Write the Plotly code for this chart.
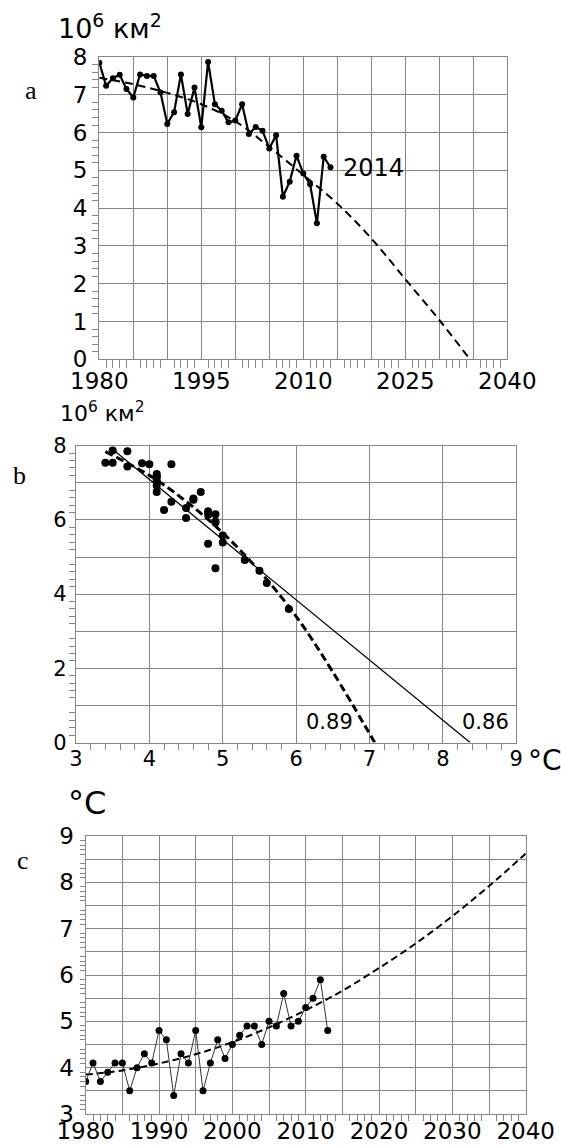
import plotly.graph_objects as go

# ---------------- data ----------------
years = list(range(1980, 2015))
ice_extent = [7.85, 7.24, 7.44, 7.53, 7.15, 6.93, 7.54, 7.50, 7.50, 7.06,
              6.23, 6.54, 7.54, 6.49, 7.19, 6.14, 7.87, 6.75, 6.58, 6.27,
              6.32, 6.75, 5.96, 6.15, 6.05, 5.58, 5.93, 4.30, 4.70, 5.39,
              4.92, 4.63, 3.60, 5.36, 5.08]
trend_a_years = [1980, 1985, 1990, 1995, 2000, 2005, 2010, 2015, 2020, 2025, 2030, 2034.5]
trend_a_values = [7.45, 7.28, 7.05, 6.75, 6.30, 5.62, 4.88, 4.12, 3.20, 2.12, 1.04, 0.0]

temp_years = list(range(1980, 2014))
temperature = [3.7, 4.1, 3.7, 3.9, 4.1, 4.1, 3.5, 4.0, 4.3, 4.1,
               4.8, 4.6, 3.4, 4.3, 4.1, 4.8, 3.5, 4.1, 4.6, 4.2,
               4.5, 4.7, 4.9, 4.9, 4.5, 5.0, 4.9, 5.6, 4.9, 5.0,
               5.3, 5.5, 5.9, 4.8]
trend_c_years = list(range(1980, 2045, 5))
trend_c_values = [3.85, 3.94, 4.09, 4.29, 4.55, 4.87, 5.24, 5.66, 6.15, 6.68, 7.27, 7.92, 8.62]

linear_b_temp = [3.47, 8.37]
linear_b_ext = [7.95, 0.0]
curve_b_temp = [3.40, 4.0, 4.5, 5.0, 5.5, 6.0, 6.5, 7.07]
curve_b_ext = [7.84, 7.2, 6.5, 5.65, 4.62, 3.4, 1.9, 0.0]

# tick / grid positions
year_grid = list(range(1980, 2041, 5))
a_year_labels = [1980, 1995, 2010, 2025, 2040]
c_year_labels = [1980, 1990, 2000, 2010, 2020, 2030, 2040]
year_small = [y for y in range(1980, 2041) if y % 5]
ext_grid = [0, 1, 2, 3, 4, 5, 6, 7, 8]
ext_small = [round(i / 5, 2) for i in range(41) if i % 5]
b_ext_labels = [0, 2, 4, 6, 8]
temp_b_grid = [3, 4, 5, 6, 7, 8, 9]
temp_b_small = [round(3 + i / 5, 2) for i in range(31) if i % 5]
temp_c_grid = [round(3 + i / 2, 1) for i in range(13)]
temp_c_labels = [3, 4, 5, 6, 7, 8, 9]
temp_c_small = [round(3 + i / 10, 2) for i in range(61) if i % 5]

# ---------------- figure ----------------
W, H = 561, 1148
GRID = "#868686"
SANS = "DejaVu Sans, Arial, sans-serif"
SERIF = "Liberation Serif, Times New Roman, serif"


def px_x(p):
    return p / W


def px_y(p):
    return 1 - p / H


fig = go.Figure()

# panel a
fig.add_trace(go.Scatter(x=trend_a_years, y=trend_a_values, mode="lines",
                         line=dict(color="black", width=2, dash="8px,5px", shape="spline"),
                         xaxis="x", yaxis="y", showlegend=False, hoverinfo="skip"))
fig.add_trace(go.Scatter(x=years, y=ice_extent, mode="lines+markers",
                         line=dict(color="black", width=2.2),
                         marker=dict(color="black", size=6),
                         xaxis="x", yaxis="y", showlegend=False))

# panel b
fig.add_trace(go.Scatter(x=linear_b_temp, y=linear_b_ext, mode="lines",
                         line=dict(color="black", width=1.3),
                         xaxis="x2", yaxis="y2", showlegend=False, hoverinfo="skip"))
fig.add_trace(go.Scatter(x=curve_b_temp, y=curve_b_ext, mode="lines",
                         line=dict(color="black", width=3, dash="8px,4px", shape="spline"),
                         xaxis="x2", yaxis="y2", showlegend=False, hoverinfo="skip"))
fig.add_trace(go.Scatter(x=temperature, y=ice_extent[:len(temperature)], mode="markers",
                         marker=dict(color="black", size=8),
                         xaxis="x2", yaxis="y2", showlegend=False))

# panel c
fig.add_trace(go.Scatter(x=trend_c_years, y=trend_c_values, mode="lines",
                         line=dict(color="black", width=2, dash="7px,4px", shape="spline"),
                         xaxis="x3", yaxis="y3", showlegend=False, hoverinfo="skip"))
fig.add_trace(go.Scatter(x=temp_years, y=temperature, mode="lines+markers",
                         line=dict(color="#333333", width=1),
                         marker=dict(color="black", size=7),
                         xaxis="x3", yaxis="y3", showlegend=False))

# invisible anchors for the overlay (small-tick) axes
for xa, ya, xs, ys in (("x4", "y4", years, ice_extent),
                       ("x5", "y5", temperature, ice_extent),
                       ("x6", "y6", temp_years, temperature)):
    fig.add_trace(go.Scatter(x=xs[:1], y=ys[:1], mode="markers",
                             marker=dict(opacity=0, size=1), xaxis=xa, yaxis=ya,
                             showlegend=False, hoverinfo="skip"))


def main_axis(domain, rng, grid, labels, fsize, anchor, standoff):
    rest = [g for g in grid if g not in labels]
    return dict(domain=domain, range=rng, tickmode="array", tickvals=labels,
                ticktext=[str(v) for v in labels],
                showgrid=True, gridcolor=GRID, gridwidth=1.2,
                showline=True, mirror=True, linecolor=GRID, linewidth=1.4,
                zeroline=False, ticks="", ticklen=0, anchor=anchor, automargin=False,
                ticklabelstandoff=standoff,
                tickfont=dict(family=SANS, size=fsize, color="black"),
                minor=dict(tickmode="array", tickvals=rest, ticks="", showgrid=True,
                           gridcolor=GRID, gridwidth=1.2),
                fixedrange=True)


def small_axis(base, anchor, rng, vals, length):
    return dict(overlaying=base, anchor=anchor, range=rng, tickmode="array",
                tickvals=vals, ticks="outside", ticklen=length, tickwidth=1.2,
                tickcolor=GRID, showticklabels=False, showgrid=False,
                showline=False, zeroline=False, automargin=False, fixedrange=True)


fig.update_layout(
    width=W, height=H,
    margin=dict(l=0, r=0, t=0, b=0, autoexpand=False),
    paper_bgcolor="white", plot_bgcolor="white",
    xaxis=main_axis([px_x(99.3), px_x(507.3)], [1980, 2040], year_grid, a_year_labels, 23, "y", 1),
    yaxis=main_axis([px_y(359.3), px_y(57)], [0, 8], ext_grid, ext_grid, 23, "x", 6),
    xaxis2=main_axis([px_x(76), px_x(516.3)], [3, 9], temp_b_grid, temp_b_grid, 21, "y2", -3),
    yaxis2=main_axis([px_y(742.5), px_y(445.7)], [0, 8], ext_grid, b_ext_labels, 21, "x2", 4),
    xaxis3=main_axis([px_x(85.7), px_x(525.7)], [1980, 2040], year_grid, c_year_labels, 23, "y3", -4),
    yaxis3=main_axis([px_y(1114), px_y(836)], [3, 9], temp_c_grid, temp_c_labels, 23, "x3", 6),
    xaxis4=small_axis("x", "y4", [1980, 2040], year_small, 8),
    yaxis4=small_axis("y", "x4", [0, 8], ext_small, 6),
    xaxis5=small_axis("x2", "y5", [3, 9], temp_b_small, 6),
    yaxis5=small_axis("y2", "x5", [0, 8], ext_small, 6),
    xaxis6=small_axis("x3", "y6", [1980, 2040], year_small, 6),
    yaxis6=small_axis("y3", "x6", [3, 9], temp_c_small, 5),
)

ann = []
ann.append(dict(text="10<sup>6</sup> км<sup>2</sup>", xref="paper", yref="paper",
                x=px_x(56), y=px_y(26), xanchor="left", yanchor="middle",
                showarrow=False, font=dict(family=SANS, size=27, color="black")))
ann.append(dict(text="a", xref="paper", yref="paper", x=px_x(31), y=px_y(90),
                xanchor="center", yanchor="middle", showarrow=False,
                font=dict(family=SERIF, size=26, color="black")))
ann.append(dict(text="2014", xref="x", yref="y", x=2015.6, y=5.06,
                xanchor="left", yanchor="middle", showarrow=False,
                font=dict(family=SANS, size=24, color="black")))
ann.append(dict(text="10<sup>6</sup> км<sup>2</sup>", xref="paper", yref="paper",
                x=px_x(58), y=px_y(412), xanchor="left", yanchor="middle",
                showarrow=False, font=dict(family=SANS, size=22, color="black")))
ann.append(dict(text="b", xref="paper", yref="paper", x=px_x(19), y=px_y(475),
                xanchor="center", yanchor="middle", showarrow=False,
                font=dict(family=SERIF, size=26, color="black")))
ann.append(dict(text="0.89", xref="x2", yref="y2", x=6.45, y=0.55,
                xanchor="center", yanchor="middle", showarrow=False,
                font=dict(family=SANS, size=21, color="black")))
ann.append(dict(text="0.86", xref="x2", yref="y2", x=8.58, y=0.55,
                xanchor="center", yanchor="middle", showarrow=False,
                font=dict(family=SANS, size=21, color="black")))
ann.append(dict(text="°C", xref="paper", yref="paper", x=px_x(526), y=px_y(760),
                xanchor="left", yanchor="middle", showarrow=False,
                font=dict(family=SANS, size=28, color="black")))
ann.append(dict(text="c", xref="paper", yref="paper", x=px_x(23), y=px_y(860),
                xanchor="center", yanchor="middle", showarrow=False,
                font=dict(family=SERIF, size=26, color="black")))
ann.append(dict(text="°C", xref="paper", yref="paper", x=px_x(66), y=px_y(803),
                xanchor="left", yanchor="middle", showarrow=False,
                font=dict(family=SANS, size=32, color="black")))
fig.update_layout(annotations=ann)

fig.write_html("out.html", config={"displayModeBar": False},
               post_script="document.body.style.margin='0';")
